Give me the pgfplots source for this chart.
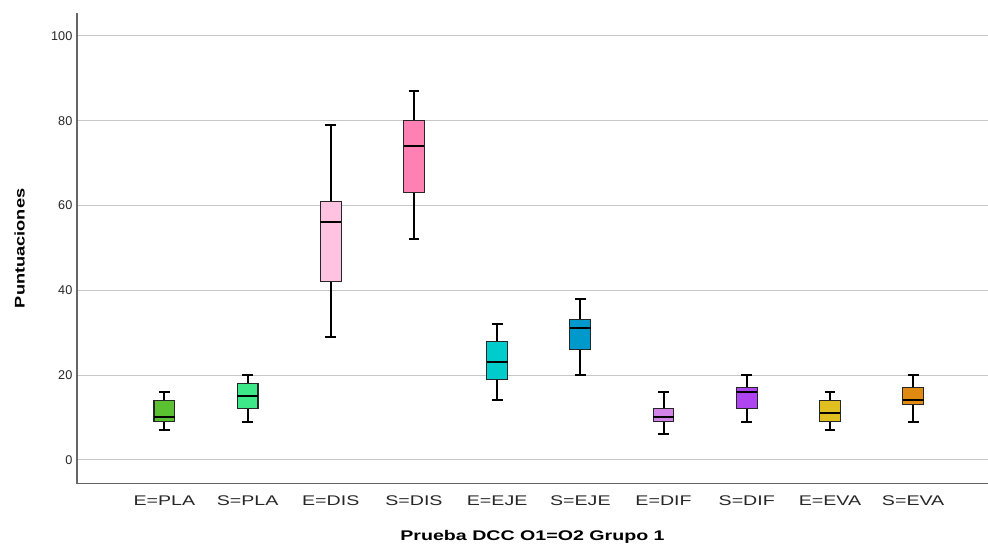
\documentclass[border=0pt]{standalone}
\usepackage{fontspec}
\setmainfont{Liberation Sans}
\newfontfamily\wideX[FakeStretch=1.4]{Liberation Sans}
\newfontfamily\wideT[FakeStretch=1.4]{Liberation Sans}
\newfontfamily\wideY[FakeStretch=1.3]{Liberation Sans}
\usepackage{pgfplots}
\pgfplotsset{compat=1.18}
\usepgfplotslibrary{statistics}

\definecolor{cA}{HTML}{5CC033}
\definecolor{cB}{HTML}{3DE889}
\definecolor{cC}{HTML}{FFC2E0}
\definecolor{cD}{HTML}{FF80B2}
\definecolor{cE}{HTML}{00CCCC}
\definecolor{cF}{HTML}{0099CC}
\definecolor{cG}{HTML}{D484E8}
\definecolor{cH}{HTML}{AE45F0}
\definecolor{cI}{HTML}{E0C020}
\definecolor{cJ}{HTML}{E08A12}

\pgfplotsset{
  bx/.style={draw=black, line width=1.5pt,
    boxplot/draw direction=y,
    boxplot/box extend=0.25, boxplot/whisker extend=0.13,
    boxplot/every box/.style={draw=black!85, line width=0.8pt},
    boxplot/every median/.style={line width=1.5pt},
    boxplot/every whisker/.style={line width=1.5pt}},
}

\begin{document}
\begin{tikzpicture}
\begin{axis}[
  at={(0,0)}, anchor=south west,
  scale only axis,
  width=683pt, height=353pt,
  xmin=-0.05, xmax=10.9,
  ymin=-5.66, ymax=105.4,
  xtick={1,...,10},
  xticklabels={E=PLA,S=PLA,E=DIS,S=DIS,E=EJE,S=EJE,E=DIF,S=DIF,E=EVA,S=EVA},
  ytick={0,20,...,100},
  ymajorgrids,
  grid style={black!22, line width=0.75pt},
  axis x line=bottom, axis y line=left,
  axis line style={-, line width=1pt, color=black!60},
  major tick length=0pt,
  /pgf/number format/assume math mode=true,
  yticklabel style={font=\fontsize{9.5}{10}\selectfont, color=black!85},
  xticklabel style={font=\fontsize{10.5}{12}\wideX, color=black!85, text height=7pt, text depth=2pt, yshift=-6pt},
  xlabel={\textbf{Prueba DCC O1=O2 Grupo 1}},
  ylabel={\textbf{Puntuaciones}},
  xlabel style={font=\fontsize{10.5}{12}\wideT, at={(axis description cs:0.5,0)}, anchor=center, yshift=-40pt},
  ylabel style={font=\fontsize{10.5}{12}\wideY, at={([xshift=-43pt]axis description cs:0,0.5)}, anchor=center},
]
\addplot[bx, fill=cA, boxplot prepared={draw position=1, lower whisker=7, lower quartile=9, median=10, upper quartile=14, upper whisker=16}] coordinates {};
\addplot[bx, fill=cB, boxplot prepared={draw position=2, lower whisker=9, lower quartile=12, median=15, upper quartile=18, upper whisker=20}] coordinates {};
\addplot[bx, fill=cC, boxplot prepared={draw position=3, lower whisker=29, lower quartile=42, median=56, upper quartile=61, upper whisker=79}] coordinates {};
\addplot[bx, fill=cD, boxplot prepared={draw position=4, lower whisker=52, lower quartile=63, median=74, upper quartile=80, upper whisker=87}] coordinates {};
\addplot[bx, fill=cE, boxplot prepared={draw position=5, lower whisker=14, lower quartile=19, median=23, upper quartile=28, upper whisker=32}] coordinates {};
\addplot[bx, fill=cF, boxplot prepared={draw position=6, lower whisker=20, lower quartile=26, median=31, upper quartile=33, upper whisker=38}] coordinates {};
\addplot[bx, fill=cG, boxplot prepared={draw position=7, lower whisker=6, lower quartile=9, median=10, upper quartile=12, upper whisker=16}] coordinates {};
\addplot[bx, fill=cH, boxplot prepared={draw position=8, lower whisker=9, lower quartile=12, median=16, upper quartile=17, upper whisker=20}] coordinates {};
\addplot[bx, fill=cI, boxplot prepared={draw position=9, lower whisker=7, lower quartile=9, median=11, upper quartile=14, upper whisker=16}] coordinates {};
\addplot[bx, fill=cJ, boxplot prepared={draw position=10, lower whisker=9, lower quartile=13, median=14, upper quartile=17, upper whisker=20}] coordinates {};
\end{axis}
\pgfresetboundingbox
\path (-57.75pt,-45.75pt) rectangle (683pt,362.75pt);
\end{tikzpicture}
\end{document}
